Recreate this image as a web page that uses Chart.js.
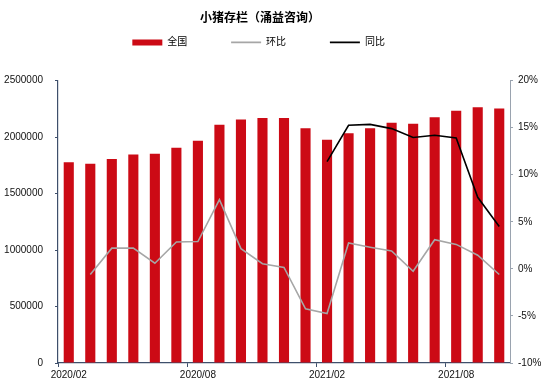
<!DOCTYPE html>
<html>
<head>
<meta charset="utf-8">
<script src="https://cdn.jsdelivr.net/npm/chart.js@4.4.1/dist/chart.umd.min.js"></script>
<style>
  body { margin: 0; background: #fff; }
</style>
</head>
<body>
<canvas id="pigs" width="550" height="386"></canvas>
<script>
const months = ['2020/02', '2020/03', '2020/04', '2020/05', '2020/06', '2020/07', '2020/08', '2020/09', '2020/10', '2020/11', '2020/12',
  '2021/01', '2021/02', '2021/03', '2021/04', '2021/05', '2021/06', '2021/07', '2021/08', '2021/09', '2021/10'];
const national = [1778000, 1764000, 1805000, 1846000, 1852000, 1905000, 1967000, 2109000, 2155000, 2170000, 2170000,
  2079000, 1976000, 2035000, 2079000, 2126000, 2117000, 2176000, 2232000, 2264000, 2253000];
// 环比 (%)
const mom = [null, -0.6, 2.2, 2.2, 0.6, 2.85, 2.9, 7.35, 2.15, 0.55, 0.15,
  -4.25, -4.75, 2.75, 2.3, 1.9, -0.25, 3.1, 2.6, 1.45, -0.6];
// 同比 (%)
const yoy = [null, null, null, null, null, null, null, null, null, null, null,
  null, 11.4, 15.25, 15.35, 14.9, 13.95, 14.2, 13.9, 7.6, 4.5];

const font = "Arial, 'Liberation Sans', 'Noto Sans CJK SC', sans-serif";
const axisDark = '#3E4F6B';
const gap = '\u3000\u3000\u3000 '; // trailing space in legend texts, widens the item gap

const ctx = document.getElementById('pigs').getContext('2d');

const chart = new Chart(ctx, {
  type: 'bar',
  data: {
    labels: months,
    datasets: [
      {
        label: '全国',
        data: national,
        backgroundColor: '#CC0A15',
        barPercentage: 0.47,
        categoryPercentage: 1,
        yAxisID: 'y',
        order: 2
      },
      {
        type: 'line',
        label: '环比',
        data: mom,
        borderColor: '#A6A6A6',
        borderWidth: 1.6,
        pointRadius: 0,
        tension: 0,
        yAxisID: 'y1',
        order: 1
      },
      {
        type: 'line',
        label: '同比',
        data: yoy,
        borderColor: '#000000',
        borderWidth: 1.6,
        pointRadius: 0,
        tension: 0,
        yAxisID: 'y1',
        order: 0
      }
    ]
  },
  options: {
    responsive: false,
    animation: false,
    layout: { padding: 0 },
    plugins: {
      tooltip: { enabled: false },
      title: {
        display: true,
        text: '小猪存栏（涌益咨询）\u3000\u3000\u3000',
        color: '#000',
        font: { family: font, size: 12, weight: 'bold' },
        padding: { top: 11, bottom: 1 }
      },
      subtitle: {
        // spacer between legend and plot (low weight = sits below the legend)
        display: true,
        text: ' ',
        weight: 500,
        font: { size: 1 },
        padding: { top: 0, bottom: 22 }
      },
      legend: {
        display: true,
        labels: {
          color: '#000',
          font: { family: font, size: 10 },
          usePointStyle: true,
          pointStyleWidth: 30,
          boxHeight: 6,
          padding: 11,
          generateLabels: (c) => [
            { text: '全国' + gap, fillStyle: '#CC0A15', strokeStyle: '#CC0A15', lineWidth: 0, pointStyle: 'rect', datasetIndex: 0 },
            { text: '环比' + gap, fillStyle: '#A6A6A6', strokeStyle: '#A6A6A6', lineWidth: 1.6, pointStyle: 'line', datasetIndex: 1 },
            { text: '同比' + gap, fillStyle: '#000', strokeStyle: '#000', lineWidth: 1.6, pointStyle: 'line', datasetIndex: 2 }
          ]
        }
      }
    },
    scales: {
      x: {
        afterFit: (s) => { s.height = 23; },
        grid: {
          offset: true,
          drawOnChartArea: false,
          tickLength: 4,
          color: (c) => (c.index % 6 === 0 ? axisDark : 'rgba(0,0,0,0)')
        },
        border: { display: true, color: axisDark, width: 1.2 },
        ticks: {
          autoSkip: false,
          maxRotation: 0,
          padding: 2,
          color: '#111',
          font: { family: font, size: 10 },
          callback: (v, i) => (i % 6 === 0 ? months[i] : '')
        }
      },
      y: {
        position: 'left',
        min: 0,
        max: 2500000,
        afterFit: (s) => { s.width = 58; },
        grid: { drawOnChartArea: false, tickLength: 3, color: axisDark },
        border: { display: true, color: axisDark, width: 1.2 },
        ticks: {
          stepSize: 500000,
          padding: 12,
          color: '#111',
          font: { family: font, size: 10 },
          callback: (v) => String(v)
        }
      },
      y1: {
        position: 'right',
        min: -10,
        max: 20,
        afterFit: (s) => { s.width = 40; },
        grid: { drawOnChartArea: false, tickLength: 3, color: '#9AA3AF' },
        border: { display: true, color: '#9AA3AF', width: 1 },
        ticks: {
          stepSize: 5,
          padding: 5,
          color: '#111',
          font: { family: font, size: 10 },
          callback: (v) => v + '%'
        }
      }
    }
  }
});
</script>
</body>
</html>
